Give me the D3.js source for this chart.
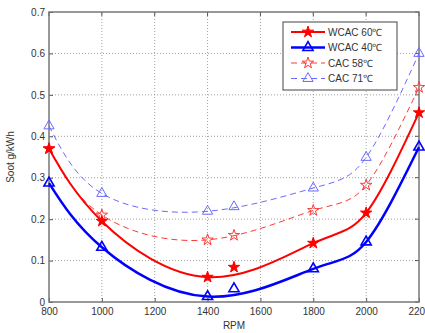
<!DOCTYPE html>
<html>
<head>
<meta charset="utf-8">
<script src="https://cdn.jsdelivr.net/npm/d3@7"></script>
<style>
  body { margin: 0; background: #fff; }
  text { font-family: "Liberation Sans", Arial, sans-serif; fill: #333; }
</style>
</head>
<body>
<div id="chart"></div>
<script>
var rpm = [800, 1000, 1400, 1500, 1800, 2000, 2200];
var wcac60 = [0.370, 0.195, 0.060, 0.084, 0.142, 0.215, 0.457];
var wcac40 = [0.287, 0.132, 0.013, 0.032, 0.080, 0.145, 0.374];
var cac58  = [0.370, 0.210, 0.150, 0.161, 0.221, 0.282, 0.518];
var cac71  = [0.425, 0.262, 0.219, 0.230, 0.275, 0.349, 0.600];
var xTicks = [800, 1000, 1200, 1400, 1600, 1800, 2000, 2200];
var yTicks = [0, 0.1, 0.2, 0.3, 0.4, 0.5, 0.6, 0.7];
// the curve is a spline through the main speeds; 1500 rpm is marked only
var curveSpeeds = [800, 1000, 1400, 1800, 2000, 2200];

var series = [
  { name: "WCAC 60\u2103", values: wcac60, color: "#ff0000", dash: null, width: 2, marker: "star", fill: true },
  { name: "WCAC 40\u2103", values: wcac40, color: "#0000ff", dash: null, width: 2.5, marker: "tri", fill: false },
  { name: "CAC 58\u2103", values: cac58, color: "#ff3838", dash: "6,4", width: 1, marker: "star", fill: false },
  { name: "CAC 71\u2103", values: cac71, color: "#6a6aff", dash: "6,4", width: 1, marker: "tri", fill: false }
];

var W = 425, H = 333;
var margin = { top: 12, right: 6, bottom: 31, left: 49 };

var svg = d3.select("#chart").append("svg")
  .attr("width", W).attr("height", H);

var x = d3.scaleLinear().domain([800, 2200]).range([margin.left, W - margin.right]);
var y = d3.scaleLinear().domain([0, 0.7]).range([H - margin.bottom, margin.top]);

// grid
svg.append("g").selectAll("line").data(xTicks.slice(1, -1)).enter().append("line")
  .attr("x1", d => x(d)).attr("x2", d => x(d))
  .attr("y1", y(0)).attr("y2", y(0.7))
  .attr("stroke", "#888").attr("stroke-width", 0.8).attr("stroke-dasharray", "1,2");
svg.append("g").selectAll("line").data(yTicks.slice(1, -1)).enter().append("line")
  .attr("x1", x(800)).attr("x2", x(2200))
  .attr("y1", d => y(d)).attr("y2", d => y(d))
  .attr("stroke", "#888").attr("stroke-width", 0.8).attr("stroke-dasharray", "1,2");

// axes
var xAxis = svg.append("g").attr("transform", "translate(0," + y(0) + ")")
  .call(d3.axisBottom(x).tickValues(xTicks).tickSize(-4).tickPadding(6).tickFormat(d3.format("d")));
var yAxis = svg.append("g").attr("transform", "translate(" + x(800) + ",0)")
  .call(d3.axisLeft(y).tickValues(yTicks).tickSize(-4).tickPadding(4).tickFormat(d => d === 0 ? "0" : d3.format(".1f")(d)));
[xAxis, yAxis].forEach(function (g) {
  g.select(".domain").remove();
  g.selectAll(".tick line").attr("stroke", "#555");
  g.selectAll(".tick text").style("font-size", "10px").attr("fill", "#333");
});
// right/top ticks
svg.append("g").selectAll("line").data(yTicks).enter().append("line")
  .attr("x1", x(2200)).attr("x2", x(2200) - 4)
  .attr("y1", d => y(d)).attr("y2", d => y(d)).attr("stroke", "#555");
svg.append("g").selectAll("line").data(xTicks).enter().append("line")
  .attr("x1", d => x(d)).attr("x2", d => x(d))
  .attr("y1", y(0.7)).attr("y2", y(0.7) + 4).attr("stroke", "#555");

// frame
svg.append("rect")
  .attr("x", x(800)).attr("y", y(0.7))
  .attr("width", x(2200) - x(800)).attr("height", y(0) - y(0.7))
  .attr("fill", "none").attr("stroke", "#777").attr("stroke-width", 1.5);

// labels
svg.append("text").attr("x", (x(800) + x(2200)) / 2).attr("y", H - 4)
  .attr("text-anchor", "middle").style("font-size", "10px").text("RPM");
svg.append("text")
  .attr("transform", "translate(" + 14 + "," + y(0.35) + ") rotate(-90)")
  .attr("text-anchor", "middle").style("font-size", "10px").text("Soot g/kWh");

var line = d3.line().x(d => x(d[0])).y(d => y(d[1])).curve(d3.curveNatural);
var star = d3.symbol().type(d3.symbolStar).size(40);
var tri = d3.symbol().type(d3.symbolTriangle).size(45);

function drawMarker(g, s, px, py) {
  g.append("path")
    .attr("d", s.marker === "star" ? star() : tri())
    .attr("transform", "translate(" + px + "," + py + ")")
    .attr("fill", s.fill ? s.color : "none")
    .attr("stroke", s.color).attr("stroke-width", s.marker === "tri" && s.width > 2 ? 1.6 : 1);
}

series.slice().reverse().forEach(function (s) {
  var pts = rpm.map((r, i) => [r, s.values[i]]);
  var g = svg.append("g");
  g.append("path").datum(pts.filter(p => curveSpeeds.indexOf(p[0]) >= 0)).attr("d", line)
    .attr("fill", "none").attr("stroke", s.color).attr("stroke-width", s.width)
    .attr("stroke-dasharray", s.dash);
  pts.forEach(p => drawMarker(g, s, x(p[0]), y(p[1])));
});

// legend
var lg = svg.append("g");
lg.append("rect").attr("x", 283).attr("y", 22).attr("width", 114).attr("height", 68)
  .attr("fill", "#fff").attr("stroke", "#444").attr("stroke-width", 1);
series.forEach(function (s, i) {
  var ly = 32 + i * 15.5;
  lg.append("line").attr("x1", 291).attr("x2", 325).attr("y1", ly).attr("y2", ly)
    .attr("stroke", s.color).attr("stroke-width", s.width).attr("stroke-dasharray", s.dash);
  drawMarker(lg, s, 308, ly);
  lg.append("text").attr("x", 328).attr("y", ly + 3.5).style("font-size", "10px").text(s.name);
});
</script>
</body>
</html>
